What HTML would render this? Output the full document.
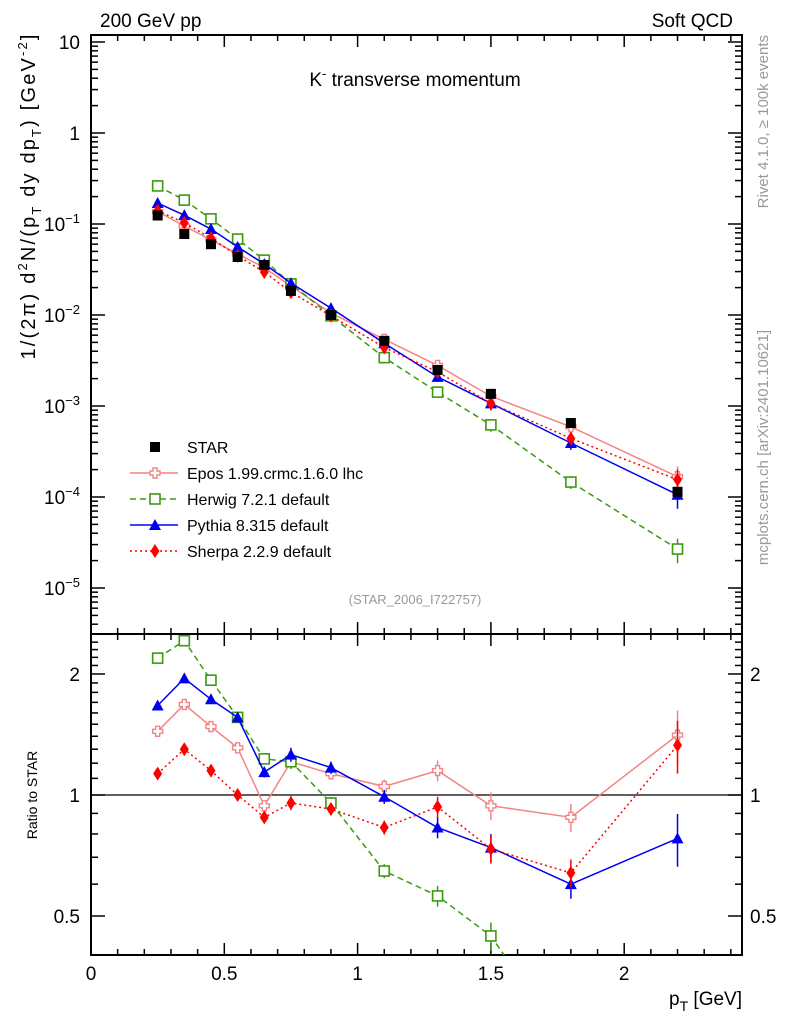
<!DOCTYPE html>
<html><head><meta charset="utf-8"><style>
body{margin:0;background:#fff}
svg{display:block;font-family:"Liberation Sans",sans-serif}
</style></head><body>
<svg id="c" width="786" height="1024" viewBox="0 0 786 1024">
<g id="g"></g>
</svg>
<script>
const pt=[0.25,0.35,0.45,0.55,0.65,0.75,0.9,1.1,1.3,1.5,1.8,2.2];
const star=[0.124,0.0776,0.060,0.0434,0.0355,0.0184,0.0100,0.0052,0.00249,0.00136,0.00065,0.000114];
const vEpos=[0.137,0.095,0.067,0.0469,0.0332,0.0208,0.0105,0.0054,0.00279,0.00128,0.00059,0.000167];
const vHerwig=[0.262,0.183,0.114,0.0683,0.0401,0.0220,0.0098,0.0034,0.00142,0.00062,0.000146,0.0000268];
const vPythia=[0.170,0.125,0.088,0.056,0.0363,0.0224,0.0119,0.0049,0.00209,0.00107,0.000392,0.000106];
const vSherpa=[0.140,0.103,0.070,0.0446,0.0297,0.0178,0.0098,0.0044,0.00237,0.00107,0.00044,0.000155];
const rEpos=[1.44,1.68,1.48,1.31,0.94,1.21,1.13,1.05,1.15,0.94,0.88,1.41];
const rHerwig=[2.19,2.42,1.93,1.56,1.23,1.21,0.955,0.647,0.561,0.446,0.23,0.24];
const rPythia=[1.67,1.95,1.73,1.56,1.14,1.26,1.17,0.99,0.83,0.74,0.60,0.78];
const rSherpa=[1.13,1.30,1.15,1.0,0.88,0.955,0.923,0.83,0.934,0.734,0.64,1.33];
const eRatio=[0.02,0.025,0.025,0.025,0.03,0.04,0.035,0.04,0.06,0.08,0.08,0.15];
const xTicks=[0,0.5,1,1.5,2];
const yDecades=[1,0,-1,-2,-3,-4,-5];
const rTicks=[0.5,1,2];

const NS="http://www.w3.org/2000/svg";
const g=document.getElementById('g');
function el(t,a,p){const e=document.createElementNS(NS,t);for(const k in a)e.setAttribute(k,a[k]);(p||g).appendChild(e);return e;}
const L=91,R=742,T=35,M=634,B=955;
const X=v=>L+v*266.6;
const Y=v=>133-Math.log10(v)*91;
const YR=v=>795-Math.log10(v)*402;

let f1=el('rect',{x:L,y:T,width:R-L,height:M-T,fill:'none',stroke:'#000','stroke-width':2});

let f2=el('rect',{x:L,y:M,width:R-L,height:B-M,fill:'none',stroke:'#000','stroke-width':2});

let one=el('line',{x1:L,x2:R,y1:YR(1),y2:YR(1),stroke:'#000','stroke-width':1.2});


for(let v=0;v<=2.44;v+=0.1){const vv=Math.round(v*10)/10;const maj=Math.abs(vv*2-Math.round(vv*2))<1e-6;const len=maj?12:6;
 for(const [y0,d] of [[T,1],[M,-1],[M,1],[B,-1]]) el('line',{x1:X(vv),x2:X(vv),y1:y0,y2:y0+d*len,stroke:'#000','stroke-width':1.5});}
xTicks.forEach(v=>{const t=el('text',{x:X(v),y:980,'font-size':19,'text-anchor':'middle'});t.textContent=String(v);
 });
for(let d=-6;d<=1;d++){for(let m=1;m<10;m++){const v=m*Math.pow(10,d);const y=Y(v);if(y<T||y>M)continue;const len=m==1?14:7;
 el('line',{x1:L,x2:L+len,y1:y,y2:y,stroke:'#000','stroke-width':1.5});el('line',{x1:R,x2:R-len,y1:y,y2:y,stroke:'#000','stroke-width':1.5});}}
yDecades.forEach(d=>{const t=el('text',{x:80,y:Y(Math.pow(10,d))+7,'font-size':19,'text-anchor':'end'});
 
 if(d==1)t.textContent='10';else if(d==0)t.textContent='1';else{t.textContent='10';const s=el('tspan',{dy:-8,'font-size':13},t);s.textContent='\u2212'+String(-d);}});
for(let v=0.4;v<=2.5;v+=0.1){const vv=Math.round(v*10)/10;const maj=(vv==0.5||vv==1||vv==2);const len=maj?14:7;const y=YR(vv);if(y<M||y>B)continue;
 el('line',{x1:L,x2:L+len,y1:y,y2:y,stroke:'#000','stroke-width':1.5});el('line',{x1:R,x2:R-len,y1:y,y2:y,stroke:'#000','stroke-width':1.5});}
rTicks.forEach(v=>{for(const [x,a] of [[80,'end'],[750,'start']]){const t=el('text',{x:x,y:YR(v)+7,'font-size':19,'text-anchor':a});t.textContent=String(v);
 }});

function marker(type,x,y,c,p){
 if(type=='sq')return el('rect',{x:x-5,y:y-5,width:10,height:10,fill:c},p);
 if(type=='osq')return el('rect',{x:x-5,y:y-5,width:10,height:10,fill:'#fff',stroke:c,'stroke-width':1.6},p);
 if(type=='tri')return el('path',{d:`M${x},${y-6}L${x+6},${y+5}L${x-6},${y+5}Z`,fill:c},p);
 if(type=='dia')return el('path',{d:`M${x},${y-7}L${x+4.5},${y}L${x},${y+7}L${x-4.5},${y}Z`,fill:c},p);
 if(type=='cross')return el('path',{d:`M${x-2},${y-5}h4v3h3v4h-3v3h-4v-3h-3v-4h3Z`,fill:'#fff',stroke:c,'stroke-width':1.4},p);
}
const series=[
 {name:'epos',v:vEpos,r:rEpos,c:'#f48484',dash:'',m:'cross',label:'Epos 1.99.crmc.1.6.0 lhc'},
 {name:'herwig',v:vHerwig,r:rHerwig,c:'#3c9a0e',dash:'6,4',m:'osq',label:'Herwig 7.2.1 default'},
 {name:'pythia',v:vPythia,r:rPythia,c:'#0000f0',dash:'',m:'tri',label:'Pythia 8.315 default'},
 {name:'sherpa',v:vSherpa,r:rSherpa,c:'#ff0000',dash:'2,3',m:'dia',label:'Sherpa 2.2.9 default'}];
const clipM=el('clipPath',{id:'cm'});el('rect',{x:L,y:T,width:R-L,height:M-T},clipM);
const clipR=el('clipPath',{id:'cr'});el('rect',{x:L,y:M,width:R-L,height:B-M},clipR);

series.forEach(s=>{
 const gm=el('g',{'clip-path':'url(#cm)'});
 const gr=el('g',{'clip-path':'url(#cr)'});
 const vals=s.v;
 el('polyline',{points:pt.map((p,i)=>X(p)+','+Y(vals[i])).join(' '),fill:'none',stroke:s.c,'stroke-width':1.5,'stroke-dasharray':s.dash},gm);
 el('polyline',{points:pt.map((p,i)=>X(p)+','+YR(s.r[i])).join(' '),fill:'none',stroke:s.c,'stroke-width':1.5,'stroke-dasharray':s.dash},gr);
 pt.forEach((p,i)=>{
  const e=eRatio[i];
  el('line',{x1:X(p),x2:X(p),y1:Y(vals[i]*(1+e*2)),y2:Y(vals[i]*(1-e*2)),stroke:s.c,'stroke-width':1.5},gm);
  el('line',{x1:X(p),x2:X(p),y1:YR(s.r[i]*(1+e)),y2:YR(s.r[i]*(1-e)),stroke:s.c,'stroke-width':1.5},gr);
  const m1=marker(s.m,X(p),Y(vals[i]),s.c,gm);
  const m2=marker(s.m,X(p),YR(s.r[i]),s.c,gr);
 });
});
const gs=el('g',{});
pt.forEach((p,i)=>{const m=marker('sq',X(p),Y(star[i]),'#000',gs);});

const lg=el('g',{});
const leg=[{m:'sq',c:'#000',dash:null,label:'STAR'}].concat(series);
leg.forEach((s,i)=>{const y=447+i*26;
 const e=el('g',{},lg);
 if(s.dash!==null)el('line',{x1:130,x2:178,y1:y,y2:y,stroke:s.c,'stroke-width':1.5,'stroke-dasharray':s.dash},e);
 marker(s.m,155,y,s.c,e);
 const t=el('text',{x:187,y:y+6,'font-size':16},e);t.textContent=s.label;});

function txt(x,y,s,size,attrs,name){const t=el('text',Object.assign({x:x,y:y,'font-size':size},attrs||{}));t.innerHTML=s;
 return t;}
txt(100,27,'200 GeV pp',19,{},'energy-label');
txt(733,27,'Soft QCD',19,{'text-anchor':'end'},'process-label');
txt(415,86,'K<tspan dy="-8" font-size="13">-</tspan><tspan dy="8"> transverse momentum</tspan>',19,{'text-anchor':'middle'},'plot-title');
txt(415,604,'(STAR_2006_I722757)',13,{'text-anchor':'middle',fill:'#999'},'analysis-id');
txt(0,0,'1/(2π)    d<tspan dy="-8" font-size="13">2</tspan><tspan dy="8">N/(p</tspan><tspan dy="6" font-size="13">T</tspan><tspan dy="-6"> dy dp</tspan><tspan dy="6" font-size="13">T</tspan><tspan dy="-6">) [GeV</tspan><tspan dy="-8" font-size="13">-2</tspan><tspan dy="8">]</tspan>',20,{'text-anchor':'middle',transform:'translate(35,197) rotate(-90)',textLength:325,lengthAdjust:'spacing'},'y-axis-title');
txt(0,0,'Ratio to STAR',14,{'text-anchor':'middle',transform:'translate(37,795) rotate(-90)'},'ratio-axis-title');
txt(742,1005,'p<tspan dy="6" font-size="14">T</tspan><tspan dy="-6"> [GeV]</tspan>',19,{'text-anchor':'end'},'x-axis-title');
txt(0,0,'Rivet 4.1.0, ≥ 100k events',15,{'text-anchor':'end',fill:'#999',transform:'translate(768,35) rotate(-90)'},'rivet-version-label');
txt(0,0,'mcplots.cern.ch [arXiv:2401.10621]',15,{'text-anchor':'end',fill:'#999',transform:'translate(768,330) rotate(-90)'},'mcplots-label');
</script>
</body></html>
